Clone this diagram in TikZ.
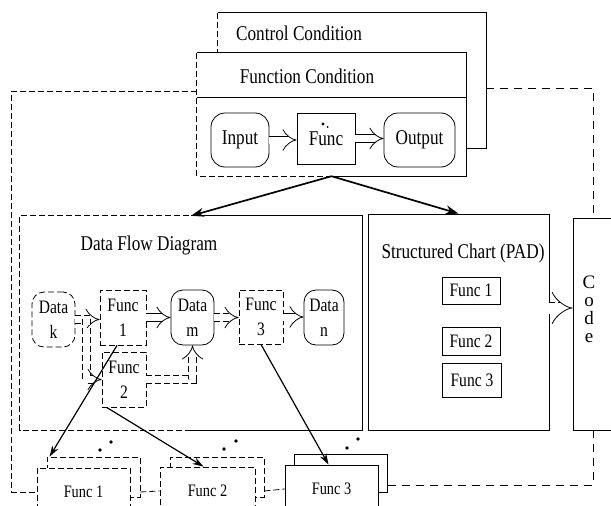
\documentclass[tikz,border=0pt]{standalone}
\usepackage{fontspec}
\setmainfont{Liberation Serif}
\newfontfamily\cnd{Liberation Serif}[FakeStretch=0.82]
\usetikzlibrary{arrows.meta,calc}
\newcommand{\myhd}{\fontsize{21}{23}\selectfont\cnd}
\newcommand{\mynd}{\fontsize{19}{25}\selectfont\cnd}
\newcommand{\mysc}{\fontsize{19}{21}\selectfont\cnd}
\newcommand{\mybt}{\fontsize{17.5}{20}\selectfont\cnd}
\newcommand{\mycode}{\fontsize{19}{19}\selectfont}
\begin{document}
\begin{tikzpicture}[x=1pt,y=-1pt,
  bx/.style={draw, line width=0.8pt, fill=white, inner sep=0pt, align=center},
  rnd/.style={bx, rounded corners=14pt},
  dsh/.style={dash pattern=on 6pt off 3pt},
  ldsh/.style={line width=0.8pt, dash pattern=on 8pt off 6pt},
  dbl/.style={double, double distance=7pt, line width=0.8pt, -{Implies}},
  thk/.style={line width=1.7pt, -{Stealth[length=13pt,width=9pt]}},
  med/.style={line width=1.2pt, -{Stealth[length=11pt,width=7pt]}},
  ln/.style={line width=0.8pt},
  cl/.style={font=\mycode, inner sep=0pt, text height=13pt, text depth=0pt}]
\useasboundingbox (0,0) rectangle (611,506);
\fill[white] (0,0) rectangle (611,506);

% Control condition
\node[fill=white, inner sep=0pt, minimum width=268pt, minimum height=135pt] (ctrl) at (352,80.5) {};
% Function condition
\node[fill=white, inner sep=0pt, minimum width=269pt, minimum height=123pt] (fc) at (331.5,114.5) {};
\draw[ln] (fc.east |- ctrl.south) -- (ctrl.south east) -- (ctrl.north east) -- (ctrl.north west);
\draw[ln,dsh] (ctrl.north west) -- (ctrl.west |- fc.north);
\draw[ln] (fc.north west) -- (fc.north east) -- (fc.south east) -- (fc.south);
\draw[ln,dsh] (fc.south) -- (fc.south west) -- (fc.north west);
\draw[ln] (fc.west |- 0,97) -- (fc.east |- 0,97);
\node[anchor=base, font=\myhd] (ctrlt) at (299,40) {Control Condition};
\node[anchor=base, font=\myhd] (fct) at (307,83) {Function Condition};

\node[rnd, font=\myhd, minimum width=58pt, minimum height=54pt] (inp) at (240,140) {Input};
\node[bx, font=\myhd, minimum width=58pt, minimum height=51pt] (fn) at (326,138.5) {Func};
\node[rnd, font=\myhd, minimum width=71pt, minimum height=54pt] (outp) at (419.5,140) {Output};
\fill (323,124) circle (1.6pt);
\fill (327.5,127) circle (1pt);
\draw[dbl] (inp.east) -- (inp.east -| fn.west);
\draw[dbl] (fn.east) -- (fn.east -| outp.west);

% Data flow diagram
\node[inner sep=0pt, minimum width=342pt, minimum height=214pt] (dfd) at (191,323) {};
\draw[ln] (dfd.north) -- (dfd.north east) -- (dfd.south east) -- (dfd.south);
\draw[ln,dsh] (dfd.south) -- (dfd.south west) -- (dfd.north west) -- (dfd.north);
\node[anchor=base, font=\myhd] (dfdt) at (149,250) {Data Flow Diagram};

\node[rnd, dsh, font=\mynd, minimum width=43pt, minimum height=55pt, rounded corners=12pt] (datak) at (53.5,319.5) {Data\\k};
\node[bx, dsh, font=\mynd, minimum width=46pt, minimum height=55pt] (dfdf1) at (123,317.5) {Func\\1};
\node[rnd, font=\mynd, minimum width=43pt, minimum height=55pt, rounded corners=12pt] (datam) at (192.5,317.5) {Data\\m};
\node[bx, dsh, font=\mynd, minimum width=44pt, minimum height=54pt] (dfdf3) at (261,317) {Func\\3};
\node[rnd, font=\mynd, minimum width=40pt, minimum height=55pt, rounded corners=12pt] (datan) at (324,317.5) {Data\\n};
\node[bx, dsh, font=\mynd, minimum width=44pt, minimum height=55pt] (dfdf2) at (124,379.5) {Func\\2};

\draw[dbl,dsh] (datak.east) -- (datak.east -| dfdf1.west);
\draw[dbl] (dfdf1.east) -- (dfdf1.east -| datam.west);
\draw[dbl,dsh] (datam.east) -- (datam.east -| dfdf3.west);
\draw[dbl] (dfdf3.east) -- (dfdf3.east -| datan.west);
\draw[dbl,dsh] ($(datak.east)!0.45!(dfdf1.west)$) |- (dfdf2.west);
\draw[dbl,dsh] (dfdf2.east) -| (datam.south);

% Structured chart
\node[bx, minimum width=181pt, minimum height=216pt] (sc) at (458.5,322) {};
\node[anchor=base, font=\myhd] (sct) at (463,258) {Structured Chart (PAD)};
\node[bx, font=\mysc, minimum width=58pt, minimum height=27pt] (scf1) at (471,290.5) {Func 1};
\node[bx, font=\mysc, minimum width=58pt, minimum height=28pt] (scf2) at (471,341) {Func 2};
\node[bx, font=\mysc, minimum width=59pt, minimum height=34pt] (scf3) at (472,380) {Func 3};

% Code
\node[bx, minimum width=40pt, minimum height=212pt] (code) at (593,324) {};
\node[cl, anchor=base] (cc) at (589,288) {C};
\node[cl, anchor=base] (co) at (589,306) {o};
\node[cl, anchor=base] (cd) at (589,324) {d};
\node[cl, anchor=base] (ce) at (589,342) {e};
\draw[double, double distance=11pt, line width=0.8pt, dsh, -{Implies[length=5pt]}] ([yshift=14pt]sc.east) -- ([yshift=16pt]code.west);

% Bottom stacks
\node[bx, dsh, minimum width=93pt, minimum height=40pt] (f1b) at (93.5,477) {};
\node[bx, dsh, font=\mybt, minimum width=93pt, minimum height=48pt] (f1f) at (83.5,492) {Func 1};
\node[bx, dsh, minimum width=94pt, minimum height=40pt] (f2b) at (217,477) {};
\node[bx, dsh, font=\mybt, minimum width=95pt, minimum height=48pt] (f2f) at (207.5,491) {Func 2};
\node[bx, minimum width=93pt, minimum height=38pt] (f3b) at (340.5,473) {};
\node[bx, font=\mybt, minimum width=93pt, minimum height=48pt] (f3f) at (331.5,489) {Func 3};
\fill (100,450) circle (1.8pt); \fill (111,442) circle (1.8pt);
\fill (224,449) circle (1.8pt); \fill (236,441) circle (1.8pt);
\fill (347,448) circle (1.8pt); \fill (358,439) circle (1.8pt);
\draw[ln,dsh] (f1f.east -| f1b.east) -- (f2f.west);
\draw[ln,dsh] (f2f.east -| f2b.east) -- (f3f.west);

% Connectors
\draw[thk] (fc.south) -- (dfd.north);
\draw[thk] (fc.south) -- (sc.north);
\draw[med] ([xshift=-6pt]dfdf1.south) -- ([xshift=3pt]f1b.north west);
\draw[med] ([xshift=5pt]dfdf2.south west) -- ([xshift=-4pt]f2f.north);
\draw[med] (dfdf3.south) -- ([xshift=-3pt]f3f.north);
\draw[ldsh] ([yshift=-7.5pt]ctrl.east) -| (code.north);
\draw[ldsh] (code.south) |- ([yshift=-12pt]f3b.east);
\draw[ln,dsh] ([yshift=23.5pt]fc.west) -- ++(-185,0) |- (f1f.west);
\end{tikzpicture}
\end{document}
